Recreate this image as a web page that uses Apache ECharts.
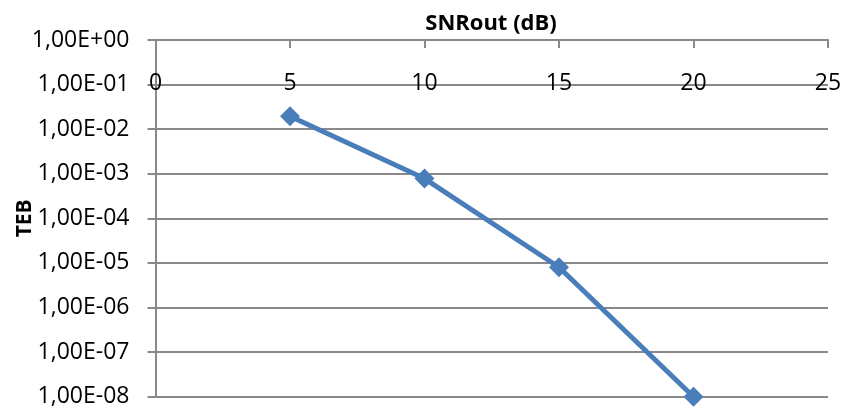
<!DOCTYPE html>
<html>
<head>
<meta charset="utf-8">
<style>
html,body{margin:0;padding:0;background:#fff;}
#chart{width:842px;height:411px;}
</style>
<script src="https://cdn.jsdelivr.net/npm/echarts@6/dist/echarts.min.js"></script>
</head>
<body>
<div id="chart"></div>
<script>
// Data
const snrOut = [5, 10, 15, 20];
const teb = [0.0196, 0.00078, 0.000008, 0.00000001];
const xTicks = [0, 5, 10, 15, 20, 25];
const xAxisTitle = 'SNRout (dB)';
const yAxisTitle = 'TEB';

function fmtSci(v) {
  const e = Math.round(Math.log10(v));
  const m = v / Math.pow(10, e);
  const sign = e < 0 ? '-' : '+';
  const ae = Math.abs(e);
  return m.toFixed(2).replace('.', ',') + 'E' + sign + (ae < 10 ? '0' + ae : '' + ae);
}

const gray = '#898989';
const font = 'Open Sans';
const chart = echarts.init(document.getElementById('chart'), null, {renderer: 'canvas'});
chart.setOption({
  animation: false,
  backgroundColor: '#ffffff',
  title: {
    text: xAxisTitle,
    left: 486, top: 8,
    textAlign: 'center',
    textStyle: {fontFamily: font, fontSize: 22, fontWeight: 'bold', color: '#000'}
  },
  grid: {left: 155.5, right: 14, top: 40, bottom: 14.3, containLabel: false, outerBoundsMode: 'none'},
  xAxis: {
    type: 'value',
    position: 'top',
    min: xTicks[0],
    max: xTicks[xTicks.length - 1],
    interval: xTicks[1] - xTicks[0],
    axisLine: {show: true, onZero: false, lineStyle: {color: gray, width: 2}},
    axisTick: {show: true, inside: true, length: 8, lineStyle: {color: gray, width: 2}},
    axisLabel: {inside: true, margin: 32, fontFamily: font, fontSize: 23, color: '#000',
      showMinLabel: true, showMaxLabel: true},
    splitLine: {show: false}
  },
  yAxis: {
    type: 'log',
    logBase: 10,
    min: 1e-8,
    max: 1,
    interval: 1,
    splitNumber: 8,
    name: yAxisTitle,
    nameLocation: 'middle',
    nameGap: 120,
    nameMoveOverlap: false,
    nameRotate: 90,
    nameTextStyle: {fontFamily: font, fontSize: 21, fontWeight: 'bold', color: '#000'},
    axisLine: {show: true, lineStyle: {color: gray, width: 2}},
    axisTick: {show: true, inside: false, length: 8, lineStyle: {color: gray, width: 2}},
    axisLabel: {margin: 26, fontFamily: font, fontSize: 23, color: '#000', formatter: fmtSci},
    splitLine: {show: true, lineStyle: {color: gray, width: 2}}
  },
  series: [{
    type: 'line',
    data: snrOut.map((x, i) => [x, teb[i]]),
    symbol: 'diamond',
    symbolSize: 20,
    lineStyle: {color: '#4a7ebb', width: 5},
    itemStyle: {color: '#4a7ebb'},
    z: 5
  }]
});
</script>
</body>
</html>
